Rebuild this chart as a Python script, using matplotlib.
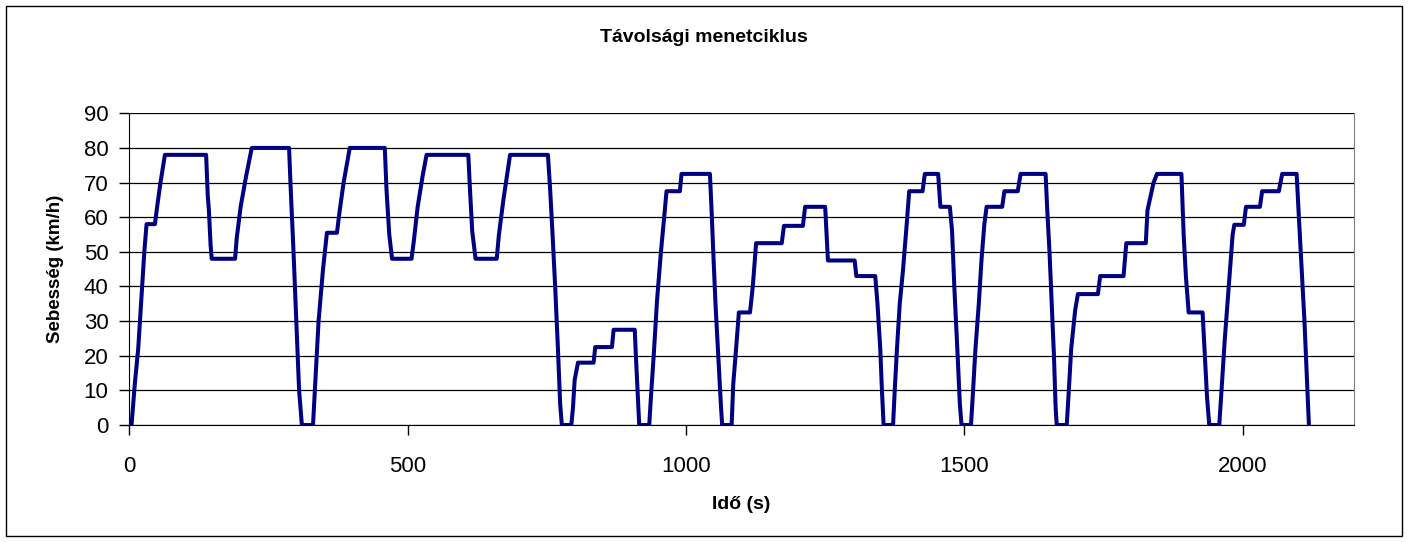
import matplotlib.pyplot as plt
from matplotlib.patches import Rectangle

plt.rcParams['font.family'] = ['Liberation Sans', 'DejaVu Sans']

# Sebességprofil töréspontjai (leolvasva)
ido = [0, 4, 10, 16, 22, 27, 31, 46, 50, 56, 64, 138, 141, 143, 146, 148, 190, 193, 200, 210, 220,
       287, 290, 295, 300, 305, 310, 330, 335, 340, 348, 355, 373, 378, 385, 396, 459, 462, 467, 472,
       507, 511, 518, 527, 534, 609, 612, 616, 622, 660, 664, 672, 684, 752, 756, 760, 765, 770, 774,
       777, 794, 797, 800, 806, 834, 837, 867, 870, 908, 910, 913, 916, 934, 937, 942, 948, 955, 962,
       965, 989, 992, 1043, 1046, 1049, 1053, 1058, 1063, 1065, 1082, 1085, 1090, 1095, 1115, 1120,
       1126, 1172, 1176, 1210, 1214, 1250, 1252, 1255, 1303, 1306, 1340, 1344, 1349, 1352, 1355,
       1372, 1375, 1379, 1384, 1390, 1396, 1401, 1425, 1429, 1453, 1457, 1474, 1478, 1482, 1488,
       1492, 1495, 1512, 1515, 1520, 1526, 1531, 1536, 1540, 1568, 1572, 1596, 1601, 1646, 1649,
       1653, 1657, 1661, 1664, 1666, 1684, 1687, 1692, 1699, 1704, 1740, 1744, 1786, 1791, 1826,
       1829, 1840, 1846, 1890, 1894, 1898, 1903, 1928, 1932, 1936, 1940, 1958, 1962, 1968, 1975,
       1982, 1985, 2002, 2006, 2031, 2035, 2065, 2071, 2097, 2101, 2106, 2111, 2115, 2119]
sebesseg = [0, 0, 12, 22, 37, 50, 58, 58, 63, 70, 78, 78, 66, 62, 52, 48, 48, 54, 63, 72, 80,
            80, 68, 50, 30, 10, 0, 0, 15, 30, 45, 55.5, 55.5, 62, 70, 80, 80, 68, 55, 48,
            48, 53, 63, 72, 78, 78, 68, 56, 48, 48, 55, 65, 78, 78, 68, 56, 40, 22, 6,
            0, 0, 5, 13, 18, 18, 22.5, 22.5, 27.5, 27.5, 20, 10, 0, 0, 8, 20, 36, 50, 62,
            67.5, 67.5, 72.5, 72.5, 62, 50, 35, 20, 5, 0, 0, 12, 22, 32.5, 32.5, 40,
            52.5, 52.5, 57.5, 57.5, 63, 63, 57, 47.5, 47.5, 43, 43, 35, 22, 10, 0,
            0, 10, 22, 35, 45, 57, 67.5, 67.5, 72.5, 72.5, 63, 63, 56, 40, 20,
            6, 0, 0, 8, 22, 35, 48, 58, 63, 63, 67.5, 67.5, 72.5, 72.5, 62,
            50, 35, 20, 5, 0, 0, 8, 22, 33, 37.8, 37.8, 43, 43, 52.5, 52.5,
            62, 70, 72.5, 72.5, 55, 43, 32.5, 32.5, 20, 8, 0, 0, 10, 25, 40,
            55, 57.8, 57.8, 63, 63, 67.5, 67.5, 72.5, 72.5, 60, 45, 30, 15, 0]

fig = plt.figure(figsize=(14.08, 5.42), dpi=100)
ax = fig.add_axes([129.3 / 1408, 117 / 542, (1354 - 129.3) / 1408, (425 - 113.3) / 542])

ax.plot(ido, sebesseg, color='#000080', linewidth=2.9, solid_joinstyle='round',
        solid_capstyle='round')

ax.set_xlim(0, 2200)
ax.set_ylim(0, 90)
ax.set_xticks([0, 500, 1000, 1500, 2000])
ax.set_yticks(range(0, 91, 10))
ax.grid(axis='y', color='black', linewidth=0.9)
ax.set_axisbelow(True)
ax.tick_params(axis='both', direction='out', length=7, width=1, labelsize=16, colors='black')
ax.tick_params(axis='x', pad=15)
ax.tick_params(axis='y', pad=8)
ax.spines['top'].set_visible(False)
ax.spines['right'].set_color('#808080')
ax.spines['left'].set_color('black')
ax.spines['bottom'].set_color('black')

ax.set_xlabel('Idő (s)', fontsize=14, fontweight='bold', labelpad=14)
ax.set_ylabel('Sebesség (km/h)', fontsize=13.5, fontweight='bold', labelpad=14)
fig.text(0.5, 1 - 38 / 542, 'Távolsági menetciklus', ha='center', va='center',
         fontsize=14, fontweight='bold')

# keret az egész diagram körül
fig.patches.append(Rectangle((6 / 1408, 6 / 542), 1396 / 1408, 530 / 542,
                             transform=fig.transFigure, fill=False,
                             edgecolor='black', linewidth=1))

fig.savefig('out.png', dpi=100)
